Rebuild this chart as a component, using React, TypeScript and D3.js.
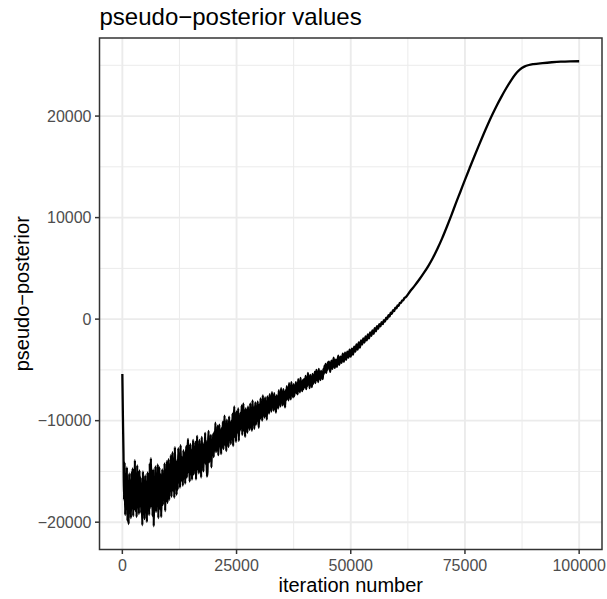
import React from "react";
import * as d3 from "d3";

// iterations 0..45000 sampled every 125
const EARLY_STEP = 125;
const earlyValues = [
  -5400, -9600, -13200, -17800, -14100, -19300, -15900, -18400, -14600, -19900, -16300, -20200, -15200, -18700, -16800, -19600,
  -15100, -18200, -14700, -19400, -16600, -17600, -13900, -18900, -15800, -19500, -14400, -17300, -16100, -19200, -14900, -18000,
  -15600, -19100, -16900, -20300, -15000, -18400, -17300, -19700, -15400, -18800, -16400, -20000, -15100, -17900, -16700, -19300,
  -14200, -18600, -13700, -17500, -15900, -19400, -14800, -20400, -16200, -18100, -14500, -19000, -15700, -17700, -14300, -19600,
  -16000, -14600, -18700, -15300, -19500, -16500, -14800, -18300, -15600, -17400, -14200, -18900, -15900, -17200, -14000, -18100,
  -15100, -13800, -17800, -14600, -16700, -13400, -17500, -15300, -13100, -16900, -14200, -17600, -12600, -15800, -14400, -17300,
  -13900, -16800, -12700, -15400, -14300, -16600, -12400, -15900, -13600, -14900, -16400, -12900, -15500, -13200, -16200, -14100,
  -12500, -15600, -13400, -11800, -15100, -14000, -16000, -12300, -14700, -12900, -15800, -13700, -11900, -15300, -12800, -14500,
  -12100, -15800, -13300, -11500, -14800, -12700, -15200, -11900, -14200, -13000, -15600, -11600, -13800, -12400, -15000, -12200,
  -13600, -11200, -14300, -12000, -15500, -15100, -12600, -11000, -14100, -12300, -13700, -11400, -14600, -12100, -13400, -11300,
  -13600, -11100, -12700, -10200, -13100, -11600, -12900, -10500, -13400, -11800, -10400, -12500, -11000, -13300, -10700, -12200,
  -10100, -12800, -11300, -9500, -12400, -10600, -13000, -9900, -11900, -10800, -12600, -9600, -11500, -10300, -12300, -10000,
  -11800, -9300, -12500, -10100, -8600, -11600, -9800, -12100, -9100, -11200, -10400, -8800, -12000, -9500, -11000, -9200,
  -10700, -8500, -11400, -9700, -8300, -11000, -9300, -11600, -8800, -10200, -9000, -11200, -8600, -10500, -9400, -10900,
  -8300, -10600, -9200, -11000, -8000, -10100, -8700, -10800, -9500, -8200, -10400, -8900, -10000, -8100, -9800, -10700,
  -8400, -9900, -7800, -9500, -8600, -10000, -7500, -9200, -8100, -9700, -7700, -9400, -8300, -9900, -7600, -9000,
  -8000, -9300, -7400, -8800, -7900, -9100, -7200, -8500, -7700, -9000, -7300, -8700, -7800, -9200, -7500, -8400,
  -7600, -8800, -7000, -8300, -7400, -8600, -6800, -8100, -7300, -8500, -6900, -7900, -7200, -8700, -7000, -8000,
  -6600, -7800, -6900, -8000, -6300, -7500, -7000, -7900, -6200, -7300, -6700, -7700, -6400, -7600, -6800, -7100,
  -6200, -7300, -6500, -7400, -5900, -7000, -6400, -7200, -5800, -6800, -6300, -7100, -6000, -6900, -5900, -6700,
  -6500, -5600, -6900, -5900, -6600, -5300, -6300, -5700, -6800, -5500, -6200, -5900, -6700, -5400, -6400, -5600,
  -6100, -5200, -6300, -5600, -5000, -6000, -5400, -6200, -4900, -5800, -5300, -6000, -5100, -5700, -5400, -5900,
  -4900, -5400, -4600, -5200, -4400, -5300, -4700, -5000, -4300,
];

const midIterations = [
  45250, 45500, 45750, 46000, 46250, 46500, 46750, 47000, 47250, 47500,
  47750, 48000, 48250, 48500, 48750, 49000, 49250, 49500, 49750, 50000,
  50250, 50500, 50750, 51000, 51250, 51500, 51750, 52000, 52250, 52500,
  52750, 53000, 53250, 53500, 53750, 54000, 54250, 54500, 54750, 55000,
  55250, 55500, 55750, 56000, 56250, 56500, 56750, 57000, 57250, 57500,
  57750, 58000, 58250, 58500, 58750, 59000, 59250, 59500, 59750, 60000,
  60250, 60500, 60750, 61000, 61250, 61500, 61750, 62000,
];
const midValues = [
  -4200, -5200, -4100, -4900, -3800, -4800, -4000, -4700, -3600, -4500,
  -3700, -4300, -3400, -4200, -3300, -4000, -3200, -3800, -3000, -3700,
  -2900, -3500, -2700, -3200, -2500, -3000, -2300, -2800, -2100, -2500,
  -1900, -2300, -1700, -2100, -1500, -1900, -1300, -1650, -1100, -1450,
  -900, -1200, -700, -950, -500, -700, -300, -500, -100, -250,
  150, 0, 400, 250, 650, 520, 880, 780, 1120, 1050,
  1350, 1320, 1600, 1600, 1840, 1870, 2080, 2150,
];

const lateIterations = [
  63000, 64000, 65000, 66000, 67000, 68000, 69000, 70000, 71000, 72000,
  73000, 74000, 75000, 76000, 77000, 78000, 79000, 80000, 81000, 82000,
  83000, 84000, 85000, 86000, 87000, 88000, 89000, 90000, 92000, 94000,
  96000, 98000, 100000,
];
const lateValues = [
  2750, 3300, 3900, 4550, 5250, 6050, 6950, 7950, 9050, 10200,
  11400, 12550, 13720, 14850, 15970, 17070, 18140, 19170, 20150, 21070,
  21920, 22720, 23450, 24100, 24580, 24870, 25030, 25120, 25220, 25300,
  25360, 25390, 25400,
];

const xTicks = [0, 25000, 50000, 75000, 100000];
const yTicks = [-20000, -10000, 0, 10000, 20000];
const xMinor = [12500, 37500, 62500, 87500];
const yMinor = [-15000, -5000, 5000, 15000, 25000];

const TITLE = "pseudo\u2212posterior values";
const X_TITLE = "iteration number";
const Y_TITLE = "pseudo\u2212posterior";

const W = 607;
const H = 599;
const M = { left: 99.5, right: 602, top: 38, bottom: 549.5 };
const FONT = "'Liberation Sans', Arial, Helvetica, sans-serif";

const fmt = (v: number) => (v < 0 ? "\u2212" + Math.abs(v) : String(v));

export default function App() {
  const points: [number, number][] = [];
  earlyValues.forEach((v, i) => points.push([i * EARLY_STEP, v]));
  midIterations.forEach((it, i) => points.push([it, midValues[i]]));
  lateIterations.forEach((it, i) => points.push([it, lateValues[i]]));

  const [x0, x1] = d3.extent(points, (d) => d[0]) as [number, number];
  const [y0, y1] = d3.extent(points, (d) => d[1]) as [number, number];
  const xp = (x1 - x0) * 0.05;
  const yp = (y1 - y0) * 0.05;

  const x = d3.scaleLinear().domain([x0 - xp, x1 + xp]).range([M.left, M.right]);
  const y = d3.scaleLinear().domain([y0 - yp, y1 + yp]).range([M.bottom, M.top]);

  const line = d3
    .line<[number, number]>()
    .x((d) => x(d[0]))
    .y((d) => y(d[1]))
    .curve(d3.curveMonotoneX);

  const cx = (M.left + M.right) / 2;
  const cy = (M.top + M.bottom) / 2;

  return (
    <svg
      width={W}
      height={H}
      style={{ position: "absolute", left: 0, top: 0, background: "#fff" }}
      fontFamily={FONT}
    >
      <rect x={0} y={0} width={W} height={H} fill="#fff" />
      {xMinor.map((t) => (
        <line key={"xm" + t} x1={x(t)} x2={x(t)} y1={M.top} y2={M.bottom} stroke="#EBEBEB" strokeWidth={1} />
      ))}
      {yMinor.map((t) => (
        <line key={"ym" + t} x1={M.left} x2={M.right} y1={y(t)} y2={y(t)} stroke="#EBEBEB" strokeWidth={1} />
      ))}
      {xTicks.map((t) => (
        <line key={"xg" + t} x1={x(t)} x2={x(t)} y1={M.top} y2={M.bottom} stroke="#EBEBEB" strokeWidth={1.9} />
      ))}
      {yTicks.map((t) => (
        <line key={"yg" + t} x1={M.left} x2={M.right} y1={y(t)} y2={y(t)} stroke="#EBEBEB" strokeWidth={1.9} />
      ))}
      <path d={line(points) ?? ""} fill="none" stroke="#000" strokeWidth={2.3} strokeLinejoin="round" />
      <rect
        x={M.left}
        y={M.top}
        width={M.right - M.left}
        height={M.bottom - M.top}
        fill="none"
        stroke="#333333"
        strokeWidth={1.5}
      />
      {xTicks.map((t) => (
        <g key={"xt" + t}>
          <line x1={x(t)} x2={x(t)} y1={M.bottom} y2={M.bottom + 4.5} stroke="#333333" strokeWidth={1.5} />
          <text x={x(t)} y={M.bottom + 21.5} textAnchor="middle" fontSize={16} fill="#4D4D4D">
            {fmt(t)}
          </text>
        </g>
      ))}
      {yTicks.map((t) => (
        <g key={"yt" + t}>
          <line x1={M.left - 4.5} x2={M.left} y1={y(t)} y2={y(t)} stroke="#333333" strokeWidth={1.5} />
          <text x={M.left - 8} y={y(t) + 5.7} textAnchor="end" fontSize={16} fill="#4D4D4D">
            {fmt(t)}
          </text>
        </g>
      ))}
      <text x={cx} y={592} textAnchor="middle" fontSize={20} fill="#000">
        {X_TITLE}
      </text>
      <text transform={`translate(29,${cy}) rotate(-90)`} textAnchor="middle" fontSize={20} fill="#000">
        {Y_TITLE}
      </text>
      <text x={M.left} y={25} fontSize={24} fill="#000">
        {TITLE}
      </text>
    </svg>
  );
}
